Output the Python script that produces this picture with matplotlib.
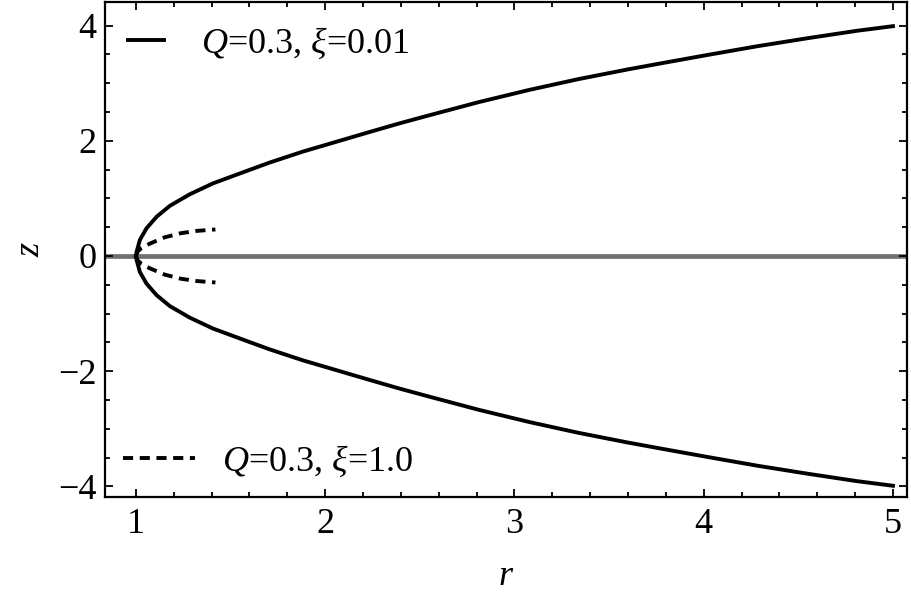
import matplotlib
matplotlib.use('Agg')
import matplotlib.pyplot as plt
from matplotlib.lines import Line2D
from matplotlib.ticker import MultipleLocator

plt.rcParams['font.family'] = ['Liberation Serif', 'DejaVu Serif']
plt.rcParams['mathtext.fontset'] = 'custom'
plt.rcParams['mathtext.rm'] = 'Liberation Serif'
plt.rcParams['mathtext.it'] = 'Liberation Serif:italic'

# embedding profile, upper half (lower half is the mirror)
r_solid = [1.0, 1.004, 1.021, 1.056, 1.109, 1.179, 1.284, 1.407, 1.547, 1.705,
           1.88, 2.056, 2.232, 2.39, 2.547, 2.81, 3.074, 3.337, 3.6, 3.8,
           4.02, 4.28, 4.547, 4.81, 5.0]
z_solid = [0.0, 0.075, 0.28, 0.48, 0.68, 0.87, 1.07, 1.26, 1.43, 1.62,
           1.81, 1.98, 2.15, 2.30, 2.44, 2.67, 2.88, 3.07, 3.24, 3.36,
           3.49, 3.64, 3.78, 3.91, 3.99]

r_dash = [1.0, 1.01, 1.03, 1.074, 1.153, 1.237, 1.32, 1.42]
z_dash = [0.0, 0.08, 0.14, 0.215, 0.325, 0.395, 0.435, 0.46]

lab_solid = r'$Q$=0.3, $\xi$=0.01'
lab_dash = r'$Q$=0.3, $\xi$=1.0'

fs = 26
lw = 2.8
dash = (0, (2.6, 1.7))

fig = plt.figure(figsize=(9.12, 5.98), dpi=100)
ax = fig.add_axes([0.115, 0.169, 0.8795, 0.8277])

ax.axhline(0, color='#707070', lw=3.4, zorder=1)

ax.plot(r_solid, z_solid, color='black', lw=lw, zorder=3)
ax.plot(r_solid, [-z for z in z_solid], color='black', lw=lw, zorder=3)
ax.plot(r_dash, z_dash, color='black', lw=lw, ls=dash, zorder=3)
ax.plot(r_dash, [-z for z in z_dash], color='black', lw=lw, ls=dash, zorder=3)

ax.set_xlim(0.836, 5.074)
ax.set_ylim(-4.184, 4.41)

ax.xaxis.set_major_locator(MultipleLocator(1))
ax.xaxis.set_minor_locator(MultipleLocator(0.2))
ax.yaxis.set_major_locator(MultipleLocator(2))
ax.yaxis.set_minor_locator(MultipleLocator(0.5))

ax.tick_params(which='both', direction='in', top=True, right=True, width=1.3,
               labelsize=fs, colors='black')
ax.tick_params(which='major', length=6)
ax.tick_params(which='minor', length=3.5)
ax.tick_params(axis='x', pad=8)
ax.tick_params(axis='y', pad=6)
for sp in ax.spines.values():
    sp.set_linewidth(1.6)

ax.set_xlabel(r'$r$', fontsize=fs, labelpad=14)
ax.set_ylabel(r'$z$', fontsize=fs, labelpad=8)

h1 = Line2D([], [], color='black', lw=lw)
h2 = Line2D([], [], color='black', lw=lw, ls=dash)
leg1 = ax.legend([h1], [lab_solid], loc='upper left', frameon=False, fontsize=fs,
                 handlelength=1.0, handletextpad=1.0, borderaxespad=0.35, borderpad=0.3)
ax.add_artist(leg1)
ax.legend([h2], [lab_dash], loc='lower left', frameon=False, fontsize=fs,
          handlelength=2.0, handletextpad=0.75, borderaxespad=0.2, borderpad=0.3)

fig.savefig('out.png', dpi=100)
